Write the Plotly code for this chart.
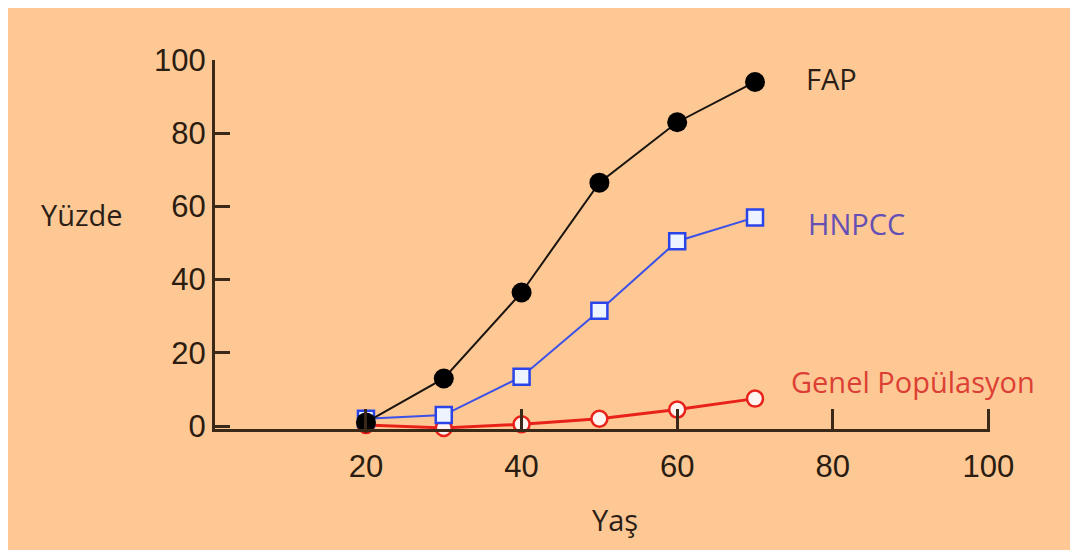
import plotly.graph_objects as go

ages = [20, 30, 40, 50, 60, 70]
fap = [1, 13, 36.5, 66.5, 83, 94]
hnpcc = [2, 3, 13.5, 31.5, 50.5, 57]
genel = [0.3, -0.5, 0.5, 2, 4.5, 7.5]

x_ticks = [20, 40, 60, 80, 100]
y_ticks = [0, 20, 40, 60, 80, 100]

BG = "#FDC894"
AXC = "#3a2818"
OFF = 8  # page body margin
W, H = 1078 - OFF, 550 - OFF
YMIN = -0.8
PX100, PX0 = 60, 426
PXB = PX0 + (PX0 - PX100) * (-YMIN) / 100  # pixel row of the x-axis line
L, T = 215 - OFF, PX100 - OFF
PW = 990 - 215
PH = PXB - PX100
R, B = W - L - PW, H - T - PH

fig = go.Figure()

fig.add_trace(go.Scatter(
    x=ages, y=genel, mode="lines+markers",
    line=dict(color="#E8221A", width=3),
    marker=dict(symbol="circle", size=16, color="#FFF4F0",
                line=dict(color="#E8221A", width=2.5)),
    cliponaxis=False, showlegend=False))

fig.add_trace(go.Scatter(
    x=ages, y=hnpcc, mode="lines+markers",
    line=dict(color="#3A50E8", width=2),
    marker=dict(symbol="square", size=16, color="#EEF4FF",
                line=dict(color="#2A44E8", width=2.5)),
    cliponaxis=False, showlegend=False))

fig.add_trace(go.Scatter(
    x=ages, y=fap, mode="lines+markers",
    line=dict(color="#1a1410", width=2),
    marker=dict(symbol="circle", size=20, color="#000000"),
    cliponaxis=False, showlegend=False))

ann_font = "Open Sans"
fig.add_annotation(x=76.3, y=95, xref="x", yref="y", text="FAP", showarrow=False,
                   xanchor="left", yanchor="middle",
                   font=dict(family=ann_font, size=29, color="#2a1e16"))
fig.add_annotation(x=76.6, y=55.3, xref="x", yref="y", text="HNPCC", showarrow=False,
                   xanchor="left", yanchor="middle",
                   font=dict(family=ann_font, size=29, color="#6450B4"))
fig.add_annotation(x=74.4, y=12.3, xref="x", yref="y", text="Genel Popülasyon", showarrow=False,
                   xanchor="left", yanchor="middle",
                   font=dict(family=ann_font, size=29, color="#DC4034"))
fig.add_annotation(x=(82 - 215) / PW, y=(PXB - 214) / PH, xref="paper", yref="paper",
                   text="Yüzde", showarrow=False, xanchor="center", yanchor="middle",
                   font=dict(family=ann_font, size=29, color="#2a1e16"))
fig.add_annotation(x=(615 - 215) / PW, y=(PXB - 519) / PH, xref="paper", yref="paper",
                   text="Yaş", showarrow=False, xanchor="center", yanchor="middle",
                   font=dict(family=ann_font, size=29, color="#2a1e16"))

tick_font = dict(family="Liberation Sans, Arial", size=31, color="#2a1c10")

fig.update_xaxes(range=[0.6, 100.2], tickvals=x_ticks, ticktext=[str(v) for v in x_ticks],
                 ticks="inside", ticklen=20, tickwidth=3, tickcolor=AXC,
                 showline=True, linecolor=AXC, linewidth=3, showgrid=False,
                 zeroline=False, tickfont=tick_font, ticklabelstandoff=8)
fig.update_yaxes(range=[YMIN, 100], tickvals=y_ticks, ticktext=[str(v) for v in y_ticks],
                 ticks="inside", ticklen=15, tickwidth=3, tickcolor=AXC,
                 showline=True, linecolor=AXC, linewidth=3, showgrid=False,
                 zeroline=False, tickfont=tick_font, ticklabelstandoff=0)

fig.update_layout(width=W, height=H, margin=dict(l=L, r=R, t=T, b=B),
                  paper_bgcolor=BG, plot_bgcolor=BG)

fig.write_html("out.html")
